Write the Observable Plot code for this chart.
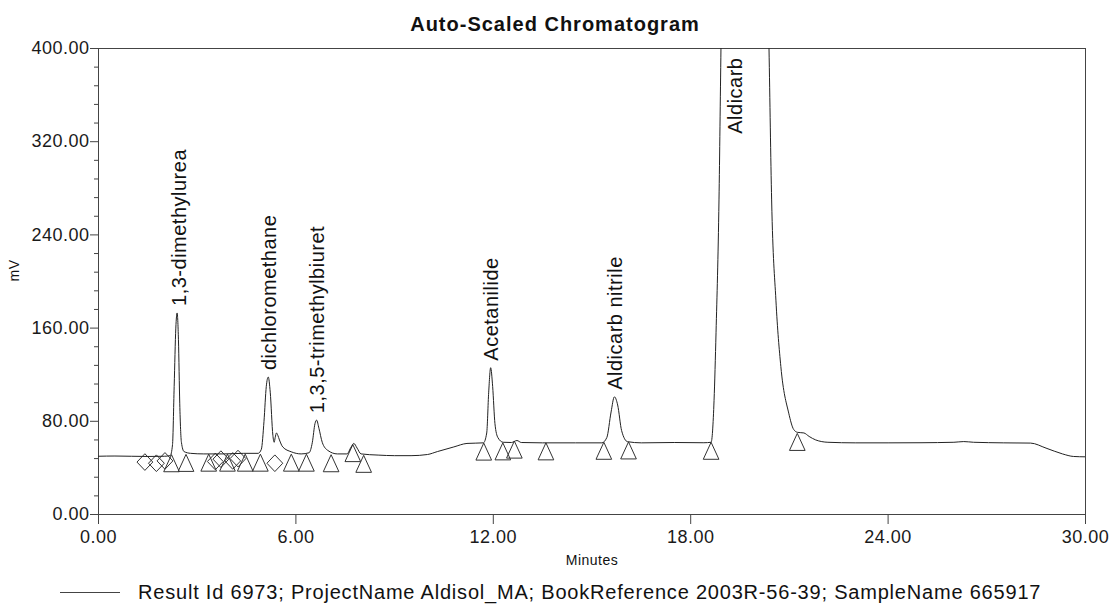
<!DOCTYPE html>
<html>
<head>
<meta charset="utf-8">
<script src="https://cdn.jsdelivr.net/npm/d3@7"></script>
<script src="https://cdn.jsdelivr.net/npm/@observablehq/plot@0.6"></script>
<style>
  html, body { margin: 0; padding: 0; background: #fff; }
  #wrap { position: relative; width: 1110px; height: 606px; font-family: "Liberation Sans", Arial, sans-serif; color: #111; }
  #chart svg { letter-spacing: 0.5px; }
  #title { position: absolute; left: 0; top: 12px; width: 1110px; text-align: center; font-weight: bold; font-size: 20px; letter-spacing: 1px; line-height: 24px; }
  #legend { position: absolute; left: 0; top: 576px; width: 1110px; height: 32px; display: flex; align-items: center; }
  #legend .swatch { margin-left: 60px; width: 60px; height: 0; border-top: 1px solid #444; }
  #legend .ltext { margin-left: 18px; font-size: 20px; letter-spacing: 0.8px; white-space: nowrap; }
</style>
</head>
<body>
<div id="wrap">
  <div id="chart"></div>
  <div id="title"></div>
  <div id="legend"><span class="swatch"></span><span class="ltext"></span></div>
</div>
<script>
// ---- Data ----
const chartTitle = "Auto-Scaled Chromatogram";
const xLabel = "Minutes";
const yLabel = "mV";
const legendText = "Result Id 6973; ProjectName Aldisol_MA; BookReference 2003R-56-39; SampleName 665917";

// detector trace: retention time (min) and signal (mV)
const timeMin = [
  0.00, 0.50, 1.00, 1.50, 2.00, 2.18, 2.25, 2.30, 2.35, 2.39, 2.43, 2.47, 2.52, 2.60, 2.80,
  3.20, 3.80, 4.40, 4.85, 4.95, 5.03, 5.10, 5.16, 5.22, 5.30, 5.34, 5.37, 5.41, 5.45, 5.50, 5.60, 5.86,
  6.16, 6.40, 6.50, 6.58, 6.63, 6.70, 6.80, 6.97, 7.26, 7.55, 7.68, 7.76, 7.86, 7.98, 8.50,
  9.00, 9.50, 10.00, 10.30, 10.80, 11.20, 11.70, 11.80, 11.86, 11.92, 11.98, 12.05, 12.14, 12.30, 12.55,
  12.72, 12.85, 13.50, 14.50, 15.30, 15.45, 15.58, 15.68, 15.78, 15.90, 16.08, 16.50, 17.50, 18.40, 18.62,
  18.71, 18.77, 18.86, 18.92, 19.20, 19.60, 20.00, 20.38, 20.46, 20.59, 20.74, 20.98, 21.13, 21.25, 21.44,
  21.60, 21.80, 22.17, 23.00, 24.00, 25.00, 26.00, 26.30, 26.60, 27.50, 28.33, 28.80, 29.30, 29.64, 30.00
];
const signalMV = [
  50.0, 50.2, 50.0, 49.8, 50.0, 50.5, 60, 110, 160, 173, 150, 95, 62, 54, 52.5,
  52.0, 52.0, 52.5, 52.5, 56, 80, 110, 118, 105, 68, 62, 66, 70, 68, 64, 58, 53.8,
  52.0, 53, 62, 78, 81, 74, 62, 55, 52, 52, 58, 61, 57, 52, 51,
  50.5, 50.5, 51.5, 54, 58, 61, 61.5, 70, 105, 126, 110, 78, 66, 62, 61.8,
  63.5, 61.8, 61.5, 61.5, 61.5, 66, 88, 101, 94, 72, 62.5, 61.5, 61.8, 61.6, 62,
  98, 156, 270, 400, 900, 1100, 900, 400, 270, 184, 127, 87, 73, 70.5, 70,
  67, 64, 62, 61.5, 61.5, 61.6, 62, 62.6, 62, 61.5, 61.3, 57, 52, 49.8, 49.5
];

// integration event markers
const diamondTime = [1.41, 1.76, 2.02, 3.55, 3.72, 4.08, 4.24, 5.36];
const diamondMV   = [45, 44, 46, 45.5, 47.5, 46, 48, 44];
const triangleTime = [2.22, 2.66, 3.35, 3.92, 4.46, 4.92, 5.86, 6.32, 7.07, 7.73, 8.06,
                      11.71, 12.29, 12.64, 13.60, 15.36, 16.11, 18.62, 21.24];
const triangleMV   = [44, 44.3, 44.5, 44.5, 44.5, 44.5, 44.5, 44.5, 44, 52.7, 43.5,
                      54, 54.2, 55.7, 54.2, 54.7, 55, 54.7, 62.3];

// peak labels
const peakNames = ["1,3-dimethylurea", "dichloromethane", "1,3,5-trimethylbiuret", "Acetanilide", "Aldicarb nitrile", "Aldicarb"];
const peakTime  = [2.46, 5.19, 6.65, 11.96, 15.73, 19.37];
const peakMV    = [173, 118, 81, 126, 101, 400];

// axis ticks
const xTicks = [0, 6, 12, 18, 24, 30];
const yTicks = [0, 80, 160, 240, 320, 400];
const yMinorTicks = [16, 32, 48, 64, 96, 112, 128, 144, 176, 192, 208, 224, 256, 272, 288, 304, 336, 352, 368, 384];

// ---- Build ----
const trace = timeMin.map((t, i) => ({t, v: signalMV[i]}));
const diamonds = diamondTime.map((t, i) => ({t, v: diamondMV[i]}));
const triangles = triangleTime.map((t, i) => ({t, v: triangleMV[i]}));
const labels = peakNames.map((name, i) => ({name, t: peakTime[i], v: peakMV[i]}));

const tallTriangle = {
  draw(ctx, size) {
    const h = Math.sqrt(size);
    const w = 0.46 * h;
    ctx.moveTo(0, -h / 2);
    ctx.lineTo(w, h / 2);
    ctx.lineTo(-w, h / 2);
    ctx.closePath();
  }
};
const openDiamond = {
  draw(ctx, size) {
    const h = Math.sqrt(size) / 2;
    ctx.moveTo(0, -h);
    ctx.lineTo(h * 0.95, 0);
    ctx.lineTo(0, h);
    ctx.lineTo(-h * 0.95, 0);
    ctx.closePath();
  }
};

const fmt = d => d.toFixed(2);

const chart = Plot.plot({
  width: 1110,
  height: 574,
  marginLeft: 98,
  marginRight: 25,
  marginTop: 48,
  marginBottom: 60,
  style: {fontFamily: "'Liberation Sans', Arial, sans-serif", fontSize: "18px", color: "#1a1a1a", background: "#fff", overflow: "visible"},
  x: {domain: [0, 30], axis: null},
  y: {domain: [0, 400], axis: null},
  marks: [
    Plot.frame({stroke: "#444", strokeWidth: 1}),
    Plot.axisY({ticks: yMinorTicks, tickSize: 4, tickFormat: () => "", label: null, stroke: "#444"}),
    Plot.axisY({ticks: yTicks, tickSize: 8, tickPadding: 1, tickFormat: fmt, fontSize: 18, label: null, stroke: "#444"}),
    Plot.axisX({ticks: xTicks, tickSize: 10, tickPadding: 6, tickFormat: fmt, fontSize: 18, label: null, stroke: "#444"}),
    Plot.dot(diamonds, {x: "t", y: "v", symbol: openDiamond, r: 9.4, stroke: "#333", fill: "none", strokeWidth: 1}),
    Plot.dot(triangles, {x: "t", y: "v", symbol: tallTriangle, r: 9.6, stroke: "#333", fill: "none", strokeWidth: 1}),
    Plot.line(trace, {x: "t", y: "v", curve: "monotone-x", stroke: "#222", strokeWidth: 1, clip: true}),
    Plot.text(labels.filter(d => d.name !== "Aldicarb"), {x: "t", y: "v", text: "name", rotate: -90, textAnchor: "start", dy: -7, fontSize: 20, fill: "#111"}),
    Plot.text(labels.filter(d => d.name === "Aldicarb"), {x: "t", y: "v", text: "name", rotate: -90, textAnchor: "end", dy: 9, fontSize: 20, fill: "#111"}),
    Plot.text([xLabel], {frameAnchor: "bottom", dy: 50, fontSize: 14, fill: "#111"}),
    Plot.text([yLabel], {frameAnchor: "left", dx: -84, rotate: -90, fontSize: 14, fill: "#111"})
  ]
});
document.getElementById("chart").appendChild(chart);
document.getElementById("title").textContent = chartTitle;
document.querySelector("#legend .ltext").textContent = legendText;
</script>
</body>
</html>
